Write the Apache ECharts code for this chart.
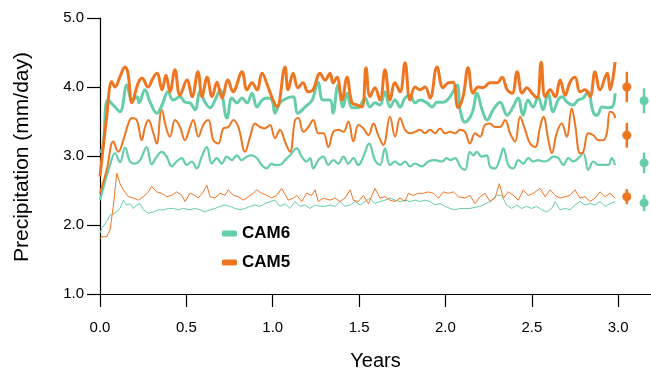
<!DOCTYPE html>
<html>
<head>
<meta charset="utf-8">
<script src="https://cdn.jsdelivr.net/npm/echarts@6/dist/echarts.min.js"></script>
<style>
  html, body { margin: 0; padding: 0; background: #fff; }
  #main { width: 651px; height: 375px; }
</style>
</head>
<body>
<div id="main"></div>
<script>
// colours of the two models
var teal = '#66CDAA';
var orange = '#EE7621';

// [years, mm/day]
var cam5Hi = [[0,2.70],[0.039,3.57],[0.068,4.08],[0.087,4.00],[0.116,4.15],[0.145,4.29],[0.162,4.20],[0.185,3.77],[0.22,4.05],[0.243,4.13],[0.278,4.00],[0.307,4.13],[0.33,4.20],[0.359,3.96],[0.382,4.17],[0.405,3.93],[0.434,4.25],[0.463,3.88],[0.504,4.10],[0.533,3.86],[0.567,4.22],[0.591,3.86],[0.62,4.14],[0.649,3.86],[0.677,4.07],[0.706,3.84],[0.741,4.10],[0.77,3.93],[0.822,4.22],[0.851,3.96],[0.88,4.06],[0.909,3.96],[0.938,4.20],[0.973,4.00],[1.002,3.81],[1.025,3.71],[1.071,4.29],[1.089,3.96],[1.118,4.20],[1.146,3.99],[1.175,4.06],[1.204,3.93],[1.233,3.96],[1.274,4.20],[1.303,4.10],[1.332,4.20],[1.349,4.06],[1.372,4.14],[1.401,3.81],[1.43,4.14],[1.459,3.77],[1.488,3.74],[1.517,3.71],[1.54,4.28],[1.563,3.86],[1.592,3.99],[1.621,3.81],[1.65,4.25],[1.679,3.81],[1.708,4.06],[1.737,3.93],[1.766,4.35],[1.795,3.81],[1.824,4.00],[1.853,3.96],[1.882,4.00],[1.911,3.84],[1.951,4.29],[1.986,3.99],[2.015,4.06],[2.044,4.07],[2.073,3.70],[2.102,3.86],[2.131,4.28],[2.16,3.91],[2.189,4.00],[2.218,3.99],[2.258,4.06],[2.299,4.06],[2.328,4.14],[2.357,3.96],[2.386,3.91],[2.415,4.22],[2.444,3.91],[2.472,3.99],[2.501,3.91],[2.53,3.84],[2.554,4.36],[2.577,3.86],[2.606,3.96],[2.635,3.86],[2.664,4.10],[2.693,3.88],[2.721,4.07],[2.75,4.14],[2.779,3.93],[2.808,3.96],[2.837,3.86],[2.866,4.22],[2.895,3.96],[2.936,4.20],[2.953,3.96],[2.982,4.36]];

var cam6Hi = [[0,3.05],[0.017,3.13],[0.046,3.81],[0.087,3.71],[0.116,3.64],[0.156,4.03],[0.185,3.81],[0.214,3.86],[0.226,3.77],[0.26,3.96],[0.29,3.78],[0.33,3.62],[0.359,3.74],[0.394,3.93],[0.423,3.81],[0.463,3.86],[0.492,3.78],[0.521,3.77],[0.55,3.67],[0.579,3.93],[0.608,3.78],[0.637,3.70],[0.666,3.81],[0.695,3.96],[0.735,3.55],[0.764,3.84],[0.793,3.77],[0.822,3.84],[0.851,3.77],[0.88,3.91],[0.909,3.71],[0.938,3.81],[0.967,3.84],[0.996,3.81],[1.013,3.62],[1.042,3.77],[1.083,3.84],[1.118,3.86],[1.146,3.62],[1.187,3.71],[1.228,3.81],[1.262,4.07],[1.291,3.81],[1.332,3.81],[1.349,3.62],[1.378,4.03],[1.407,3.71],[1.43,3.91],[1.459,3.70],[1.494,3.70],[1.534,3.84],[1.563,3.71],[1.592,3.77],[1.621,3.74],[1.65,3.93],[1.679,3.71],[1.708,3.81],[1.737,3.71],[1.766,3.84],[1.795,3.88],[1.824,3.77],[1.853,3.81],[1.893,3.77],[1.922,3.71],[1.951,3.78],[1.986,3.78],[2.027,3.86],[2.067,4.03],[2.085,3.67],[2.113,3.49],[2.154,3.62],[2.183,3.91],[2.212,3.67],[2.241,3.52],[2.276,3.67],[2.316,3.78],[2.357,3.59],[2.391,3.71],[2.42,3.84],[2.449,3.59],[2.478,3.81],[2.507,3.71],[2.536,3.86],[2.565,3.67],[2.594,3.91],[2.623,3.64],[2.652,3.81],[2.675,3.86],[2.704,3.78],[2.739,3.74],[2.768,3.81],[2.797,3.84],[2.826,3.93],[2.855,3.64],[2.878,3.59],[2.907,3.71],[2.936,3.70],[2.965,3.71],[2.982,3.91]];

var cam5Mid = [[0,2.46],[0.039,2.80],[0.077,3.21],[0.106,3.06],[0.135,3.23],[0.164,3.47],[0.184,3.55],[0.213,3.52],[0.241,3.23],[0.261,3.42],[0.28,3.52],[0.309,3.33],[0.328,3.18],[0.357,3.67],[0.386,3.38],[0.405,3.28],[0.434,3.52],[0.463,3.42],[0.492,3.23],[0.521,3.42],[0.54,3.52],[0.569,3.28],[0.598,3.45],[0.627,3.52],[0.656,3.23],[0.685,3.18],[0.714,3.40],[0.743,3.42],[0.772,3.52],[0.801,3.42],[0.84,3.06],[0.869,3.28],[0.898,3.47],[0.926,3.42],[0.955,3.40],[0.984,3.45],[1.013,3.26],[1.042,3.38],[1.071,3.21],[1.10,3.06],[1.129,3.52],[1.148,3.55],[1.177,3.35],[1.206,3.42],[1.235,3.52],[1.264,3.33],[1.293,3.33],[1.322,3.13],[1.351,3.35],[1.38,3.38],[1.409,3.35],[1.438,3.50],[1.467,3.21],[1.496,3.45],[1.525,3.40],[1.554,3.30],[1.583,3.47],[1.611,3.30],[1.64,3.16],[1.679,3.57],[1.708,3.28],[1.737,3.55],[1.766,3.38],[1.795,3.33],[1.824,3.35],[1.853,3.38],[1.882,3.33],[1.911,3.38],[1.94,3.33],[1.969,3.40],[1.998,3.33],[2.027,3.35],[2.056,3.33],[2.085,3.38],[2.113,3.35],[2.142,3.18],[2.171,3.33],[2.20,3.28],[2.229,3.45],[2.258,3.47],[2.287,3.42],[2.316,3.42],[2.345,3.52],[2.374,3.33],[2.403,3.21],[2.432,3.57],[2.461,3.38],[2.49,3.18],[2.519,3.13],[2.548,3.42],[2.567,3.57],[2.596,3.23],[2.616,3.04],[2.644,3.33],[2.673,3.47],[2.702,3.28],[2.731,3.69],[2.75,3.47],[2.779,3.04],[2.798,3.06],[2.827,3.33],[2.856,3.30],[2.885,3.23],[2.914,3.23],[2.934,3.33],[2.953,3.64],[2.972,3.62],[2.982,3.55]];

var cam6Mid = [[0,2.36],[0.058,2.87],[0.087,3.04],[0.116,2.91],[0.145,3.12],[0.174,2.92],[0.203,2.89],[0.232,2.94],[0.27,3.13],[0.299,2.88],[0.328,2.99],[0.357,3.06],[0.386,2.99],[0.415,2.85],[0.444,2.92],[0.473,2.97],[0.502,2.87],[0.531,2.92],[0.56,2.82],[0.589,2.99],[0.618,3.13],[0.647,2.89],[0.676,2.97],[0.705,2.89],[0.734,2.99],[0.763,2.94],[0.792,3.01],[0.82,2.94],[0.849,2.99],[0.878,3.01],[0.907,2.97],[0.936,2.87],[0.965,2.82],[0.994,2.89],[1.013,2.87],[1.042,2.87],[1.071,2.94],[1.10,3.01],[1.139,3.11],[1.168,2.99],[1.197,2.92],[1.216,2.97],[1.235,2.82],[1.264,2.94],[1.293,2.99],[1.322,2.87],[1.351,2.94],[1.38,2.89],[1.409,2.99],[1.438,2.89],[1.467,2.97],[1.496,2.87],[1.525,2.99],[1.558,3.18],[1.592,2.94],[1.621,2.87],[1.65,3.11],[1.679,2.87],[1.708,2.92],[1.737,2.87],[1.766,2.92],[1.795,2.85],[1.824,2.89],[1.863,2.85],[1.901,2.92],[1.94,2.94],[1.979,2.92],[2.008,2.97],[2.027,2.94],[2.056,2.97],[2.085,2.85],[2.113,2.80],[2.142,3.06],[2.162,3.01],[2.181,3.06],[2.21,2.99],[2.239,3.01],[2.258,2.85],[2.287,2.82],[2.316,2.97],[2.335,3.11],[2.364,2.87],[2.393,2.82],[2.422,2.94],[2.451,2.89],[2.48,2.97],[2.509,2.92],[2.538,2.94],[2.567,2.92],[2.596,2.94],[2.625,2.99],[2.654,2.97],[2.683,2.87],[2.712,2.97],[2.741,2.92],[2.77,2.97],[2.798,3.04],[2.827,2.80],[2.856,2.92],[2.885,2.87],[2.914,2.87],[2.943,2.87],[2.963,2.97],[2.982,2.87]];

var cam5Lo = [[0,1.80],[0.01,1.83],[0.039,1.83],[0.058,1.93],[0.077,2.27],[0.097,2.75],[0.116,2.60],[0.135,2.51],[0.164,2.41],[0.193,2.39],[0.222,2.36],[0.251,2.41],[0.28,2.48],[0.299,2.56],[0.328,2.48],[0.357,2.46],[0.386,2.41],[0.415,2.43],[0.444,2.48],[0.473,2.43],[0.492,2.34],[0.521,2.46],[0.55,2.43],[0.569,2.39],[0.598,2.48],[0.618,2.58],[0.637,2.41],[0.666,2.39],[0.695,2.46],[0.724,2.43],[0.743,2.51],[0.772,2.43],[0.801,2.41],[0.83,2.36],[0.859,2.41],[0.888,2.46],[0.907,2.51],[0.936,2.46],[0.965,2.43],[0.994,2.39],[1.023,2.43],[1.052,2.53],[1.09,2.36],[1.119,2.39],[1.139,2.43],[1.168,2.34],[1.197,2.46],[1.226,2.43],[1.245,2.51],[1.264,2.34],[1.293,2.39],[1.332,2.36],[1.361,2.39],[1.39,2.34],[1.419,2.39],[1.448,2.51],[1.467,2.36],[1.496,2.34],[1.525,2.43],[1.554,2.31],[1.592,2.53],[1.621,2.39],[1.65,2.41],[1.679,2.36],[1.708,2.34],[1.737,2.39],[1.766,2.34],[1.785,2.46],[1.814,2.43],[1.843,2.46],[1.872,2.46],[1.901,2.48],[1.93,2.46],[1.959,2.39],[1.988,2.48],[2.017,2.46],[2.046,2.48],[2.075,2.41],[2.113,2.39],[2.142,2.43],[2.171,2.31],[2.2,2.41],[2.229,2.46],[2.258,2.34],[2.287,2.39],[2.312,2.60],[2.335,2.39],[2.364,2.48],[2.393,2.43],[2.422,2.36],[2.451,2.51],[2.48,2.43],[2.509,2.46],[2.548,2.53],[2.577,2.41],[2.606,2.51],[2.635,2.43],[2.664,2.39],[2.693,2.41],[2.721,2.43],[2.75,2.51],[2.779,2.39],[2.808,2.41],[2.837,2.34],[2.866,2.39],[2.895,2.48],[2.924,2.41],[2.953,2.46],[2.982,2.39]];

var cam6Lo = [[0,1.88],[0.01,1.95],[0.039,2.05],[0.058,2.14],[0.087,2.17],[0.116,2.24],[0.135,2.36],[0.155,2.29],[0.174,2.31],[0.193,2.24],[0.213,2.29],[0.232,2.31],[0.251,2.22],[0.28,2.17],[0.309,2.19],[0.338,2.22],[0.367,2.22],[0.396,2.24],[0.425,2.24],[0.454,2.22],[0.483,2.24],[0.521,2.22],[0.55,2.24],[0.579,2.22],[0.608,2.19],[0.637,2.22],[0.666,2.24],[0.695,2.27],[0.724,2.29],[0.753,2.27],[0.782,2.24],[0.811,2.22],[0.84,2.24],[0.869,2.27],[0.898,2.29],[0.926,2.27],[0.955,2.31],[0.984,2.34],[1.013,2.36],[1.042,2.27],[1.071,2.31],[1.10,2.24],[1.129,2.34],[1.158,2.27],[1.187,2.29],[1.216,2.24],[1.245,2.29],[1.274,2.27],[1.303,2.27],[1.332,2.29],[1.361,2.27],[1.39,2.34],[1.419,2.27],[1.448,2.29],[1.477,2.34],[1.506,2.29],[1.534,2.34],[1.563,2.39],[1.592,2.31],[1.621,2.34],[1.65,2.36],[1.679,2.39],[1.708,2.36],[1.737,2.34],[1.766,2.36],[1.795,2.34],[1.824,2.36],[1.853,2.34],[1.882,2.36],[1.911,2.34],[1.94,2.29],[1.969,2.31],[1.998,2.27],[2.027,2.24],[2.056,2.22],[2.085,2.24],[2.142,2.24],[2.2,2.27],[2.258,2.34],[2.297,2.43],[2.325,2.43],[2.354,2.29],[2.383,2.24],[2.412,2.29],[2.441,2.24],[2.47,2.27],[2.499,2.24],[2.528,2.27],[2.557,2.22],[2.586,2.19],[2.615,2.24],[2.635,2.34],[2.664,2.22],[2.693,2.24],[2.721,2.22],[2.75,2.29],[2.779,2.34],[2.808,2.29],[2.837,2.31],[2.866,2.29],[2.895,2.34],[2.924,2.27],[2.953,2.31],[2.982,2.34]];

// means and spread shown at the right: [x, mean, half-bar]
var cam5Stats = [[3.05,4.00,0.22],[3.05,3.30,0.18],[3.05,2.41,0.11]];
var cam6Stats = [[3.15,3.80,0.18],[3.15,2.90,0.15],[3.15,2.32,0.12]];

var font = 'Liberation Sans, Arial, Helvetica, sans-serif';

function lineSeries(name, data, color, width, smooth) {
    return {
        name: name,
        type: 'line',
        data: data,
        symbol: 'none',
        smooth: smooth,
        color: color,
        lineStyle: { color: color, width: width },
        z: 3
    };
}

function statSeries(name, data, color) {
    return {
        name: name,
        type: 'custom',
        data: data,
        color: color,
        renderItem: function (params, api) {
            var x = api.value(0), m = api.value(1), e = api.value(2);
            var top = api.coord([x, m + e]);
            var bot = api.coord([x, m - e]);
            var mid = api.coord([x, m]);
            return {
                type: 'group',
                children: [
                    { type: 'line', shape: { x1: top[0], y1: top[1], x2: bot[0], y2: bot[1] },
                      style: { stroke: color, lineWidth: 2.5 } },
                    { type: 'circle', shape: { cx: mid[0], cy: mid[1], r: 4.5 },
                      style: { fill: color } }
                ]
            };
        },
        z: 4
    };
}

var myChart = echarts.init(document.getElementById('main'));
var option = {
    animation: false,
    backgroundColor: '#fff',
    textStyle: { fontFamily: font },
    grid: { left: 100, right: 0, top: 18, bottom: 81, outerBoundsMode: 'none' },
    // y title drawn by hand so it sits where the original has it
    graphic: [{
        type: 'text',
        x: 22,
        y: 157,
        rotation: Math.PI / 2,
        style: {
            text: 'Precipitation (mm/day)',
            font: '21px ' + font,
            fill: '#000',
            textAlign: 'center',
            textVerticalAlign: 'middle'
        }
    }],
    legend: {
        data: ['CAM6', 'CAM5'],
        orient: 'vertical',
        left: 222,
        top: 225,
        padding: 0,
        icon: 'roundRect',
        itemWidth: 15,
        itemHeight: 6,
        itemGap: 12,
        textStyle: { fontFamily: font, fontSize: 17, fontWeight: 'bold', color: '#000' }
    },
    xAxis: {
        type: 'value',
        min: 0,
        max: 3.19,
        interval: 0.5,
        name: 'Years',
        nameLocation: 'middle',
        nameGap: 57,
        nameTextStyle: { fontFamily: font, fontSize: 20, color: '#000' },
        axisLine: { onZero: false, lineStyle: { color: '#000', width: 1.2 } },
        axisTick: { length: 13, lineStyle: { color: '#000', width: 1.2 } },
        axisLabel: {
            margin: 26, fontSize: 15, color: '#000', showMaxLabel: false,
            formatter: function (v) { return v.toFixed(1); }
        },
        splitLine: { show: false }
    },
    yAxis: {
        type: 'value',
        min: 1,
        max: 5,
        interval: 1,
        axisLine: { show: true, lineStyle: { color: '#000', width: 1.2 } },
        axisTick: { show: true, length: 13, lineStyle: { color: '#000', width: 1.2 } },
        axisLabel: {
            margin: 16, fontSize: 15, color: '#000',
            formatter: function (v) { return v.toFixed(1); }
        },
        splitLine: { show: false }
    },
    series: [
        lineSeries('CAM6', cam6Lo, teal, 1, false),
        lineSeries('CAM5', cam5Lo, orange, 1, false),
        lineSeries('CAM6', cam6Mid, teal, 2.2, 0.4),
        lineSeries('CAM5', cam5Mid, orange, 2, 0.4),
        lineSeries('CAM6', cam6Hi, teal, 3, 0.4),
        lineSeries('CAM5', cam5Hi, orange, 3, 0.4),
        statSeries('CAM5', cam5Stats, orange),
        statSeries('CAM6', cam6Stats, teal)
    ]
};
myChart.setOption(option);
</script>
</body>
</html>
